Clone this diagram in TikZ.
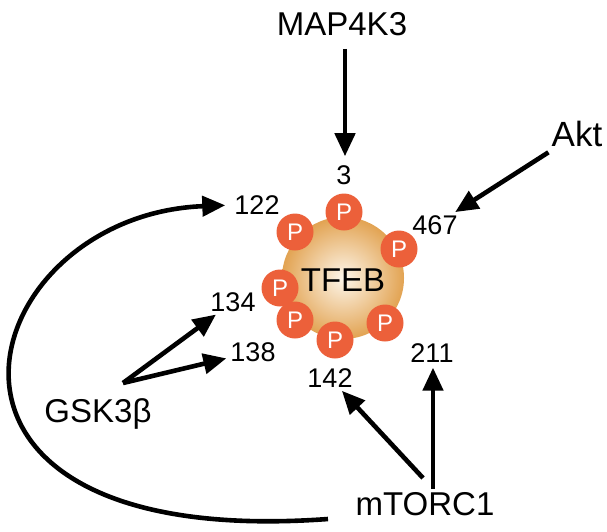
\documentclass[tikz,border=0pt]{standalone}
\usepackage{fontspec}
\setmainfont{Liberation Sans}
\usetikzlibrary{arrows.meta,calc}
\definecolor{ballout}{RGB}{226,163,82}
\definecolor{ballin}{RGB}{253,246,234}
\definecolor{pred}{RGB}{236,96,58}

\begin{document}
\begin{tikzpicture}[x=1pt, y=-1pt,
    kinase/.style={font=\fontsize{33}{35}\selectfont, inner sep=1pt},
    site/.style={font=\fontsize{27}{29}\selectfont, inner sep=1pt},
    phos/.style={circle, fill=pred, text=white, minimum size=37pt, inner sep=0pt, font=\fontsize{24}{26}\selectfont},
    arr/.style={-{Triangle[length=23pt, width=20pt]}, line width=4.6pt}]
    \useasboundingbox (0,0) rectangle (607,531);

    % TFEB
    \node[circle, minimum size=122pt, inner color=ballin, outer color=ballout] (tfeb) at (343,278) {};
    \node[font=\fontsize{33}{35}\selectfont] (tfebl) at (343,280) {TFEB};

    % Phosphate groups
    \node[phos] (p3) at (344,212) {P};
    \node[phos] (p122) at (295,232) {P};
    \node[phos] (p467) at (399,249) {P};
    \node[phos] (p134) at (280,288) {P};
    \node[phos] (p138) at (295,320) {P};
    \node[phos] (p142) at (335,340) {P};
    \node[phos] (p211) at (385,323) {P};

    % Sites
    \node[site] (s3) at (344,175) {3};
    \node[site] (s122) at (257,205) {122};
    \node[site] (s467) at (435,225) {467};
    \node[site] (s134) at (233,302) {134};
    \node[site] (s138) at (253,352) {138};
    \node[site] (s142) at (330,378) {142};
    \node[site] (s211) at (432,353) {211};

    % Kinases
    \node[kinase] (map) at (342,24) {MAP4K3};
    \node[kinase, font=\fontsize{35}{37}\selectfont] (akt) at (577,134) {Akt};
    \node[kinase] (gsk) at (98,414) {GSK3β};
    \node[kinase] (mtorc) at (425,504) {mTORC1};

    \coordinate (gskout) at (123,383);
    \coordinate (mtout) at (423,478);
    \coordinate (loopend) at (328,519);

    % Arrows
    \draw[arr, shorten <=12pt, shorten >=8pt] (map.south -| 345,0) -- (s3.north -| 345,0);
    \draw[arr, shorten <=8pt, shorten >=4pt] (akt) -- (s467);
    \draw[arr, shorten >=3pt] (gskout) -- (s134);
    \draw[arr, shorten >=3pt] (gskout) -- (s138);
    \draw[arr, shorten <=2pt, shorten >=4pt] (mtorc.north -| 433,0) -- (s211.south -| 433,0);
    \draw[arr, shorten >=3pt] (mtout) -- (s142);
    \draw[arr, shorten >=8pt] (loopend) .. controls (-126,552) and (-28,215) .. (s122.west);
\end{tikzpicture}
\end{document}
